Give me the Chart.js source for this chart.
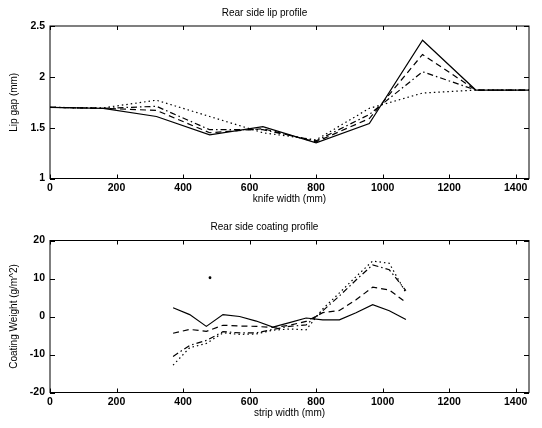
<!DOCTYPE html>
<html>
<head>
<meta charset="utf-8">
<script src="https://cdn.jsdelivr.net/npm/chart.js@4"></script>
<style>
  body { margin: 0; background: #fff; }
  .panel { position: absolute; left: 0; width: 542px; height: 214px; }
</style>
</head>
<body>
<div class="panel" style="top:0"><canvas id="lipChart" width="542" height="214"></canvas></div>
<div class="panel" style="top:214px"><canvas id="coatChart" width="542" height="214"></canvas></div>
<script>
// ---- lip profile data (knife width, mm) ----
const knifeX = [0, 160, 320, 480, 640, 800, 960, 1120, 1280, 1440];
const lipSolid   = [1.70, 1.69, 1.61, 1.43, 1.51, 1.35, 1.54, 2.36, 1.87, 1.87];
const lipDashed  = [1.70, 1.69, 1.67, 1.45, 1.49, 1.36, 1.59, 2.22, 1.87, 1.87];
const lipDashDot = [1.70, 1.69, 1.71, 1.48, 1.48, 1.37, 1.63, 2.05, 1.87, 1.87];
const lipDotted  = [1.70, 1.695, 1.77, 1.61, 1.45, 1.38, 1.69, 1.84, 1.87, 1.87];

// ---- coating profile data (strip width, mm) ----
const stripX = [370, 420, 470, 520, 570, 620, 670, 720, 770, 820, 870, 920, 970, 1020, 1070];
const coatSolid   = [2.3, 0.5, -2.6, 0.5, 0.0, -1.2, -2.8, -1.6, -0.4, -0.9, -0.9, 1.0, 3.1, 1.5, -0.8];
const coatDashed  = [-4.4, -3.4, -3.9, -2.3, -2.5, -2.6, -2.9, -2.3, -1.3, 1.0, 1.6, 4.4, 7.7, 7.0, 3.7];
const coatDashDot = [-10.5, -7.6, -6.3, -4.0, -4.3, -4.3, -3.4, -2.6, -2.2, 1.5, 5.4, 9.6, 13.6, 12.3, 6.8];
const coatDotted  = [-12.8, -8.2, -7.1, -4.3, -4.7, -4.6, -3.6, -3.3, -3.5, 2.0, 6.2, 10.5, 14.6, 14.0, 6.2];
const strayX = [481];
const strayY = [10.2];

const xTicks = [0, 200, 400, 600, 800, 1000, 1200, 1400];
const lipTicks = [1, 1.5, 2, 2.5];
const coatTicks = [-20, -10, 0, 10, 20];

const FONT = "'Liberation Sans', Arial, Helvetica, sans-serif";
const DASHES = { solid: [], dashed: [6, 4], dashdot: [6, 3, 1.5, 3], dotted: [1.5, 3] };

const pts = (xs, ys) => xs.map((x, i) => ({ x, y: ys[i] }));

function line(xs, ys, style) {
  return {
    data: pts(xs, ys),
    showLine: true,
    borderColor: "#000",
    borderWidth: 1.2,
    borderDash: DASHES[style],
    pointRadius: 0,
    tension: 0
  };
}

// box round the plot with inward ticks on all four sides
const boxTicks = {
  id: "boxTicks",
  afterDatasetsDraw(chart) {
    const { ctx, chartArea: a, scales: { x, y } } = chart;
    ctx.save();
    ctx.strokeStyle = "#000";
    ctx.lineWidth = 1;
    ctx.setLineDash([]);
    ctx.strokeRect(a.left, a.top, a.right - a.left, a.bottom - a.top);
    ctx.beginPath();
    x.ticks.forEach(t => {
      const px = Math.round(x.getPixelForValue(t.value)) + 0.5;
      ctx.moveTo(px, a.bottom); ctx.lineTo(px, a.bottom - 4);
      ctx.moveTo(px, a.top); ctx.lineTo(px, a.top + 4);
    });
    y.ticks.forEach(t => {
      const py = Math.round(y.getPixelForValue(t.value)) + 0.5;
      ctx.moveTo(a.left, py); ctx.lineTo(a.left + 5, py);
      ctx.moveTo(a.right, py); ctx.lineTo(a.right - 5, py);
    });
    ctx.stroke();
    ctx.restore();
  }
};

function makeChart(id, title, xTitle, yTitle, yMin, yMax, yTickVals, datasets, titlePad) {
  return new Chart(document.getElementById(id), {
    type: "scatter",
    data: { datasets },
    plugins: [boxTicks],
    options: {
      responsive: false,
      animation: false,
      layout: { padding: { left: 0, right: 13, top: 0, bottom: 0 } },
      plugins: {
        legend: { display: false },
        tooltip: { enabled: false },
        title: {
          display: true,
          text: title,
          color: "#000",
          font: { family: FONT, size: 10, weight: "normal" },
          padding: titlePad
        }
      },
      scales: {
        x: {
          type: "linear",
          min: 0,
          max: 1440,
          grid: { display: false, drawTicks: false },
          border: { display: false },
          afterBuildTicks: s => { s.ticks = xTicks.map(v => ({ value: v })); },
          afterFit: s => { s.height = 35.5; },
          ticks: {
            color: "#000",
            padding: 3,
            maxRotation: 0,
            callback: v => String(v),
            font: { family: FONT, size: 10.5, weight: "bold" }
          },
          title: {
            display: true,
            text: xTitle,
            color: "#000",
            padding: { top: 0, bottom: 9 },
            font: { family: FONT, size: 10 }
          }
        },
        y: {
          type: "linear",
          min: yMin,
          max: yMax,
          grid: { display: false, drawTicks: false },
          border: { display: false },
          afterBuildTicks: s => { s.ticks = yTickVals.map(v => ({ value: v })); },
          afterFit: s => { s.width = 50; },
          ticks: {
            color: "#000",
            padding: 5,
            callback: v => String(v),
            font: { family: FONT, size: 10.5, weight: "bold" }
          },
          title: {
            display: true,
            text: yTitle,
            color: "#000",
            padding: { top: 8, bottom: 0 },
            font: { family: FONT, size: 10 }
          }
        }
      }
    }
  });
}

makeChart("lipChart", "Rear side lip profile", "knife width (mm)", "Lip gap (mm)", 1, 2.5, lipTicks, [
  line(knifeX, lipSolid, "solid"),
  line(knifeX, lipDashed, "dashed"),
  line(knifeX, lipDashDot, "dashdot"),
  line(knifeX, lipDotted, "dotted")
], { top: 7, bottom: 7 });

const strayDot = {
  data: pts(strayX, strayY),
  showLine: false,
  pointRadius: 1.4,
  pointBackgroundColor: "#000",
  pointBorderWidth: 0
};

makeChart("coatChart", "Rear side coating profile", "strip width (mm)", "Coating Weight (g/m^2)", -20, 20, coatTicks, [
  line(stripX, coatSolid, "solid"),
  line(stripX, coatDashed, "dashed"),
  line(stripX, coatDashDot, "dashdot"),
  line(stripX, coatDotted, "dotted"),
  strayDot
], { top: 7, bottom: 7.5 });
</script>
</body>
</html>
